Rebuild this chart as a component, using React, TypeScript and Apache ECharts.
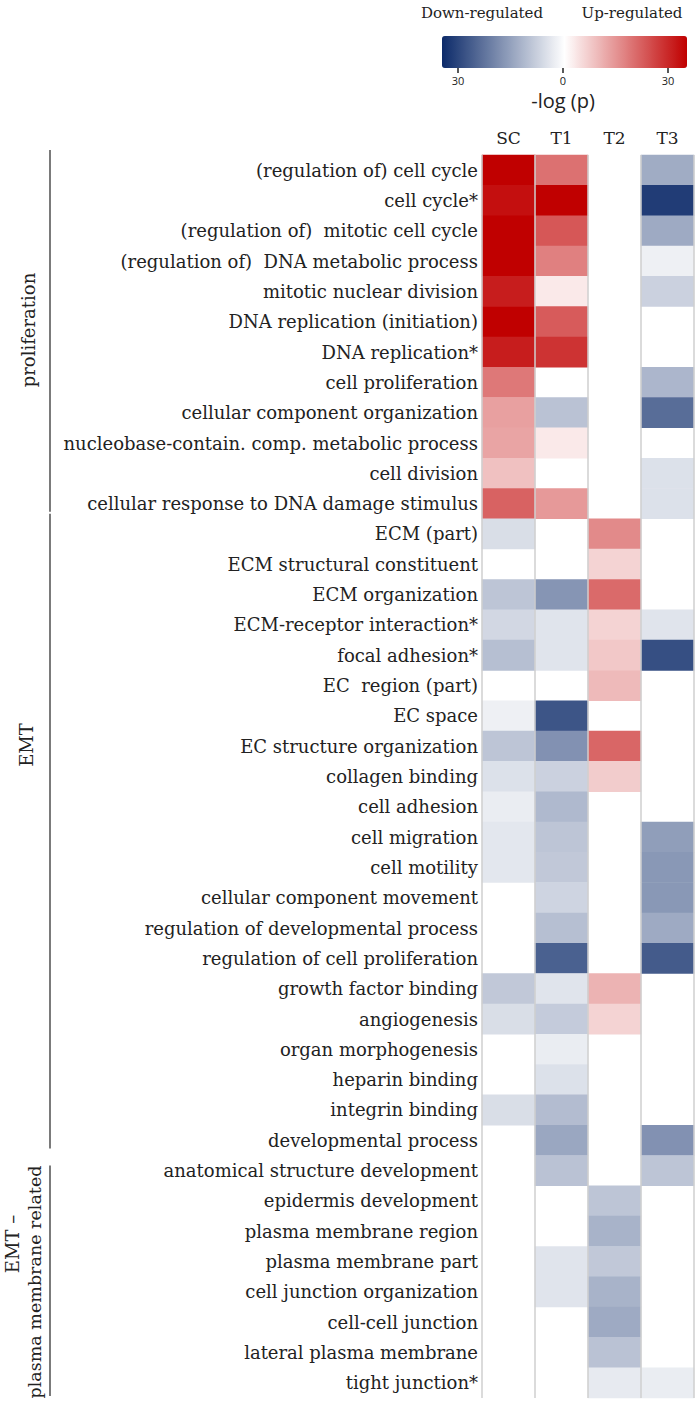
import React, { useEffect, useRef } from "react";
import * as echarts from "echarts";

const columns = ["SC", "T1", "T2", "T3"];

const terms = [
  "(regulation of) cell cycle",
  "cell cycle*",
  "(regulation of)  mitotic cell cycle",
  "(regulation of)  DNA metabolic process",
  "mitotic nuclear division",
  "DNA replication (initiation)",
  "DNA replication*",
  "cell proliferation",
  "cellular component organization",
  "nucleobase-contain. comp. metabolic process",
  "cell division",
  "cellular response to DNA damage stimulus",
  "ECM (part)",
  "ECM structural constituent",
  "ECM organization",
  "ECM-receptor interaction*",
  "focal adhesion*",
  "EC  region (part)",
  "EC space",
  "EC structure organization",
  "collagen binding",
  "cell adhesion",
  "cell migration",
  "cell motility",
  "cellular component movement",
  "regulation of developmental process",
  "regulation of cell proliferation",
  "growth factor binding",
  "angiogenesis",
  "organ morphogenesis",
  "heparin binding",
  "integrin binding",
  "developmental process",
  "anatomical structure development",
  "epidermis development",
  "plasma membrane region",
  "plasma membrane part",
  "cell junction organization",
  "cell-cell junction",
  "lateral plasma membrane",
  "tight junction*",
];

// signed -log(p): positive = up-regulated, negative = down-regulated, null = not enriched
const SC = [35, 33, 35, 35, 31, 35, 31, 18.5, 13, 12.5, 8.5, 21.5, -5.5, null, -9.5, -6.5, -10.5, null, -2.5, -9.5, -5, -3, -4, -4, null, null, null, -9, -5.5, null, null, -5.5, null, null, null, null, null, null, null, null, null];
const T1 = [19.5, 35, 23, 17.5, 3, 22.5, 28, null, -10, 3, null, 14, null, null, -17.5, -4.5, -4.5, null, -28, -18, -7.5, -11.5, -9.5, -9, -7, -10.5, -26, -4.5, -8.5, -3, -5, -11, -14.5, -10, null, null, -4.5, -4.5, null, null, null];
const T2 = [null, null, null, null, null, null, null, null, null, null, null, null, 16, 6, 20.5, 6, 7.5, 9.5, null, 21, 7, null, null, null, null, null, null, 10.5, 6, null, null, null, null, null, -9.5, -12.5, -9, -12.5, -14, -10, -3.5];
const T3 = [-13.7, -32, -14, -2.5, -7.5, null, null, -12, -24, null, -5, -5, null, null, null, -4.5, -29, null, null, null, null, null, -16, -17, -17, -14, -27, null, null, null, null, null, -18, -9.5, null, null, null, null, null, null, -3];

const groupNames = [["proliferation"], ["EMT"], ["EMT –", "plasma membrane related"]];
const groupRows = [
  [0, 12],
  [12, 33],
  [33, 41],
];

const legendTicks = ["30", "0", "30"];

export default function App() {
  const ref = useRef<HTMLDivElement>(null);
  useEffect(() => {
    const chart = echarts.init(ref.current!, null, { renderer: "svg" });
    const cols = [SC, T1, T2, T3];
    const data: any[] = [];
    cols.forEach((arr, ci) => {
      arr.forEach((v, ri) => {
        if (v !== null) data.push([ci, ri, v]);
      });
    });

    const gridTop = 155;
    const gridH = 1243;
    const rowH = gridH / terms.length;
    const serif = "DejaVu Serif";

    // bracket paddings (px) relative to the row span
    const pads = [
      [-5, -7],
      [-5, -7],
      [10, -2],
    ];
    const labelX = [[28], [26], [12, 35]];
    const labelY = [[330], [745], [1244, 1282]];
    const labelSize = [[18], [18], [18, 17.5]];

    const graphic: any[] = [];
    groupNames.forEach((lines, gi) => {
      const y1 = gridTop + groupRows[gi][0] * rowH + pads[gi][0];
      const y2 = gridTop + groupRows[gi][1] * rowH + pads[gi][1];
      graphic.push({
        type: "line",
        shape: { x1: 50, y1, x2: 50, y2 },
        style: { stroke: "#333", lineWidth: 1.3 },
      });
      lines.forEach((t, i) => {
        graphic.push({
          type: "text",
          x: labelX[gi][i],
          y: labelY[gi][i],
          rotation: Math.PI / 2,
          style: {
            text: t,
            fontFamily: serif,
            fontSize: labelSize[gi][i],
            fill: "#222",
            align: "center",
            verticalAlign: "middle",
          },
        });
      });
    });

    // legend labels
    graphic.push({
      type: "text",
      x: 482,
      y: 13,
      style: { text: "Down-regulated", fontFamily: serif, fontSize: 15, fill: "#222", align: "center", verticalAlign: "middle" },
    });
    graphic.push({
      type: "text",
      x: 632,
      y: 13,
      style: { text: "Up-regulated", fontFamily: serif, fontSize: 15, fill: "#222", align: "center", verticalAlign: "middle" },
    });
    const tickX = [458, 563, 668];
    tickX.forEach((x, i) => {
      graphic.push({ type: "line", shape: { x1: x, y1: 68, x2: x, y2: 73 }, style: { stroke: "#222", lineWidth: 1.5 } });
      graphic.push({
        type: "text",
        x,
        y: 80,
        style: { text: legendTicks[i], fontFamily: "Open Sans", fontSize: 11, lineHeight: 12, fill: "#222", align: "center", verticalAlign: "middle" },
      });
    });
    graphic.push({
      type: "text",
      x: 563,
      y: 100,
      style: { text: "-log (p)", fontFamily: "Open Sans", fontSize: 20, lineHeight: 22, fill: "#222", align: "center", verticalAlign: "middle" },
    });

    chart.setOption({
      animation: false,
      backgroundColor: "#fff",
      grid: { left: 482, top: gridTop, width: 212, height: gridH },
      xAxis: {
        type: "category",
        position: "top",
        data: columns,
        z: 5,
        axisLine: { show: false },
        axisTick: { show: false },
        axisLabel: { fontFamily: serif, fontSize: 17, color: "#222", margin: 9 },
        splitLine: { show: true, lineStyle: { color: "#cfcfcf", width: 1.5 } },
      },
      yAxis: {
        type: "category",
        data: terms,
        inverse: true,
        axisLine: { show: false },
        axisTick: { show: false },
        axisLabel: { fontFamily: serif, fontSize: 18, color: "#222", margin: 4 },
        splitLine: { show: false },
      },
      visualMap: {
        type: "continuous",
        min: -35,
        max: 35,
        orient: "horizontal",
        left: 442,
        top: 36,
        padding: 0,
        itemWidth: 32,
        itemHeight: 245,
        calculable: false,
        showLabel: false,
        text: ["", ""],
        inRange: { color: ["#0c2a69", "#ffffff", "#c00000"] },
      },
      graphic,
      series: [
        {
          type: "heatmap",
          data,
          itemStyle: { borderWidth: 0 },
          emphasis: { disabled: true },
        },
      ],
    });
    return () => chart.dispose();
  }, []);
  return (
    <div
      ref={ref}
      style={{ position: "absolute", left: 0, top: 0, width: 700, height: 1409 }}
    />
  );
}
